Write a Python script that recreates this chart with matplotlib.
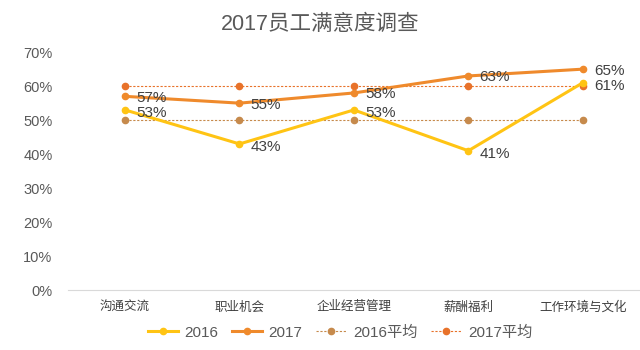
import matplotlib
matplotlib.use('Agg')
import matplotlib.pyplot as plt
from matplotlib.ticker import PercentFormatter

plt.rcParams['font.family'] = ['Liberation Sans', 'Noto Sans CJK SC']

# data
categories = ['沟通交流', '职业机会', '企业经营管理', '薪酬福利', '工作环境与文化']
y2016 = [0.53, 0.43, 0.53, 0.41, 0.61]
y2017 = [0.57, 0.55, 0.58, 0.63, 0.65]
avg2016 = [0.50, 0.50, 0.50, 0.50, 0.50]
avg2017 = [0.60, 0.60, 0.60, 0.60, 0.60]
yticks = [0, 0.1, 0.2, 0.3, 0.4, 0.5, 0.6, 0.7]

c16 = '#FFC414'
c17 = '#EF8A2C'
cavg16 = '#C68A4C'
cavg17 = '#E8722A'
grey = '#595959'

fig = plt.figure(figsize=(6.4, 3.5), dpi=100)
ax = fig.add_axes([0.106, 0.171, 0.894, 0.68])

x = range(len(categories))
ax.plot(x, avg2016, color=cavg16, lw=0.8, ls=(0, (2, 1.5)), marker='o', ms=4.5,
        mec=cavg16, mfc=cavg16, label='2016平均', zorder=2)
ax.plot(x, avg2017, color=cavg17, lw=0.8, ls=(0, (2, 1.5)), marker='o', ms=4.5,
        mec=cavg17, mfc=cavg17, label='2017平均', zorder=2)
ax.plot(x, y2016, color=c16, lw=2.2, marker='o', ms=4.5, label='2016', zorder=3)
ax.plot(x, y2017, color=c17, lw=2.2, marker='o', ms=4.5, label='2017', zorder=3)

for xi, v in zip(x, y2016):
    ax.annotate(f'{v*100:.0f}%', (xi, v), xytext=(8, -2), textcoords='offset points',
                va='center', ha='left', fontsize=11, color='#404040', zorder=5)
for xi, v in zip(x, y2017):
    ax.annotate(f'{v*100:.0f}%', (xi, v), xytext=(8, -1), textcoords='offset points',
                va='center', ha='left', fontsize=11, color='#404040', zorder=5)

ax.set_xlim(-0.5, len(categories) - 0.5)
ax.set_ylim(0, 0.7)
ax.set_yticks(yticks)
ax.yaxis.set_major_formatter(PercentFormatter(1.0, decimals=0))
ax.set_xticks(list(x))
ax.set_xticklabels(categories)
ax.tick_params(axis='y', length=0, labelsize=10.5, labelcolor=grey, pad=11)
ax.tick_params(axis='x', length=0, labelsize=9, labelcolor='#404040', pad=8)

for s in ['top', 'right', 'left']:
    ax.spines[s].set_visible(False)
ax.spines['bottom'].set_color('#D9D9D9')

fig.text(0.5, 0.93, '2017员工满意度调查', ha='center', va='center',
         fontsize=15.5, color=grey)

h, l = ax.get_legend_handles_labels()
order = [2, 3, 0, 1]
fig.legend([h[i] for i in order], [l[i] for i in order], loc='center',
           bbox_to_anchor=(0.531, 0.05), ncol=4, frameon=False, fontsize=11,
           handlelength=2.0, columnspacing=0.9, handletextpad=0.4,
           labelcolor=grey)

fig.savefig('out.png', dpi=100)
